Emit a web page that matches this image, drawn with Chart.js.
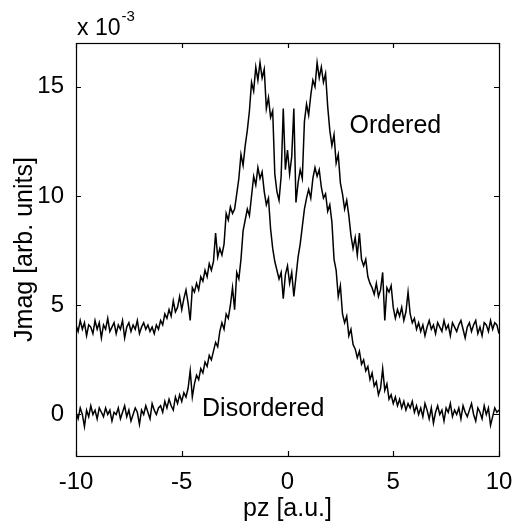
<!DOCTYPE html>
<html>
<head>
<meta charset="utf-8">
<script src="https://cdn.jsdelivr.net/npm/chart.js@4.4.1/dist/chart.umd.min.js"></script>
<style>
  html, body { margin: 0; padding: 0; background: #fff; }
  #wrap { width: 513px; height: 524px; }
</style>
</head>
<body>
<div id="wrap"><canvas id="c" width="513" height="524"></canvas></div>
<script>
// Jmag vs pz, sampled every 0.1 a.u. from -10 to 10 (values x 10^-3)
const ordered = [
  4.1, 3.8, 4.3, 3.9, 4.2, 3.6, 4.1, 4.0, 3.7, 4.3,
  3.9, 4.2, 3.5, 4.1, 3.9, 4.4, 3.8, 4.0, 4.2, 3.7,
  4.1, 3.9, 4.3, 3.5, 4.0, 4.2, 3.8, 4.1, 3.9, 4.3,
  3.7, 4.0, 4.2, 3.9, 4.1, 3.8, 4.0, 3.7, 4.1, 3.9,
  4.3, 4.1, 4.6, 4.4, 4.8, 4.5, 5.2, 4.7, 4.9, 5.4,
  4.8, 5.3, 5.7, 5.1, 4.3, 5.8, 5.6, 6.0, 5.7, 6.3,
  6.1, 6.6, 6.3, 6.9, 6.6, 7.0, 8.3, 7.2, 7.6, 7.3,
  7.8, 9.2, 8.9, 9.5, 9.2, 9.4, 10.1, 10.8, 11.9, 11.4,
  12.3, 13.0, 13.9, 15.2, 14.8, 15.9, 15.3, 16.1, 15.4, 15.8,
  14.0, 14.5, 13.6, 13.9, 11.0, 10.2, 9.8, 10.9, 14.0, 11.2,
  12.1,
  11.0, 11.8, 14.0, 9.7, 10.6, 11.2, 10.8, 13.4, 14.2, 13.7,
  14.6, 15.3, 15.0, 16.1, 15.4, 15.9, 15.2, 15.6, 14.1, 13.0,
  12.3, 12.8, 11.5, 11.9, 10.6, 10.1, 9.4, 9.8, 9.1, 8.2,
  7.6, 8.1, 7.3, 8.3, 7.1, 6.8, 7.1, 6.3, 6.0, 5.8,
  5.5, 6.0, 5.4, 5.7, 6.5, 4.3, 5.8, 5.6, 5.9, 4.9,
  4.4, 4.8, 4.5, 4.9, 4.3, 4.7, 5.6, 4.6, 4.2, 4.4,
  3.9, 4.2, 3.8, 4.1, 3.6, 4.0, 4.3, 3.9, 4.1, 3.7,
  4.2, 4.0, 3.8, 4.3, 3.9, 4.1, 3.6, 4.2, 4.0, 3.8,
  4.1, 4.3, 3.9, 3.5, 4.0, 4.2, 3.8, 4.1, 4.3, 3.7,
  4.0, 3.6, 4.2, 4.1, 3.8, 4.3, 3.9, 4.2, 4.1, 3.7
];
const disordered = [
  0.1, -0.2, 0.3, 0.0, -0.55, 0.2, -0.1, 0.4, 0.0, 0.2,
  -0.2, 0.3, 0.1, -0.1, 0.3, 0.0, 0.2, -0.3, 0.1, 0.0,
  0.3, -0.2, 0.1, 0.4, -0.1, 0.2, -0.3, 0.0, 0.3, 0.1,
  -0.45, 0.2, 0.0, 0.4, 0.1, -0.2, 0.5, 0.2, 0.0, 0.3,
  0.4, 0.1, 0.6, 0.3, 0.7, 0.4, 0.2, 0.8, 0.5, 0.9,
  0.6, 1.0, 0.8, 1.2, 2.0, 0.8, 1.4, 1.8, 1.6, 2.1,
  1.9, 2.4, 2.2, 2.7, 2.5, 2.9, 3.3, 3.1, 3.8, 4.2,
  3.9, 4.6, 4.4, 5.0, 5.8, 4.8, 6.5, 6.2, 7.1, 8.4,
  8.9, 9.4, 9.1, 10.0, 10.9, 10.5, 11.3, 10.8, 11.1, 10.2,
  9.6, 9.9, 8.5, 7.6, 7.0, 6.6, 6.2, 6.5, 5.3, 6.4,
  6.8,
  6.0, 6.5, 5.4, 6.3, 7.2, 7.8, 8.6, 9.4, 9.9, 10.3,
  9.9, 10.8, 11.3, 10.9, 11.2, 10.4, 9.9, 10.1, 9.3, 9.6,
  8.8, 7.1, 6.6, 5.4, 5.9, 4.6, 4.2, 4.5, 3.6, 3.9,
  3.2, 3.0, 2.6, 2.9, 2.3, 2.5, 2.0, 2.2, 1.6, 1.9,
  1.3, 1.5, 0.9, 1.2, 2.1, 1.1, 1.4, 0.7, 0.9, 0.5,
  0.8, 0.4, 0.7, 0.3, 0.6, 0.2, 0.5, 0.3, 0.6, 0.1,
  0.4, 0.0, 0.3, -0.1, 0.5, 0.2, -0.2, 0.3, -0.4, 0.1,
  0.4, 0.0, 0.2, -0.3, 0.3, 0.1, 0.5, -0.1, 0.2, 0.0,
  0.3, -0.2, 0.4, 0.1, -0.1, 0.2, 0.5, 0.0, -0.3, 0.3,
  0.1, -0.2, 0.4, 0.0, 0.3, -0.5, -0.1, 0.3, 0.1, 0.2
];
const pz = ordered.map((_, i) => Math.round((-10 + i * 0.1) * 10) / 10);
const xTicks = [-10, -5, 0, 5, 10];
const yTicks = [0, 5, 10, 15];
const labels = [
  { text: 'Ordered', x: 5.1, y: 13.2 },
  { text: 'Disordered', x: -1.15, y: 0.25 }
];

const FONT = '"Liberation Sans", Arial, Helvetica, sans-serif';

const frame = {
  id: 'frame',
  beforeDraw(chart) {
    const c = chart.ctx;
    c.save();
    c.fillStyle = '#fff';
    c.fillRect(0, 0, chart.width, chart.height);
    c.restore();
  },
  afterDraw(chart) {
    const c = chart.ctx;
    const a = chart.chartArea;
    const xs = chart.scales.x, ys = chart.scales.y;
    c.save();
    c.strokeStyle = '#000';
    c.lineWidth = 1.2;
    c.strokeRect(a.left + 0.5, a.top + 0.5, a.right - a.left, a.bottom - a.top);
    const len = 5;
    c.beginPath();
    xTicks.forEach((v) => {
      const px = Math.round(xs.getPixelForValue(v)) + 0.5;
      c.moveTo(px, a.bottom); c.lineTo(px, a.bottom - len);
      c.moveTo(px, a.top); c.lineTo(px, a.top + len);
    });
    yTicks.forEach((v) => {
      const py = Math.round(ys.getPixelForValue(v)) + 0.5;
      c.moveTo(a.left, py); c.lineTo(a.left + len, py);
      c.moveTo(a.right, py); c.lineTo(a.right - len, py);
    });
    c.stroke();

    c.fillStyle = '#000';
    c.font = '25px ' + FONT;
    c.textAlign = 'center';
    c.textBaseline = 'middle';
    labels.forEach((l) => {
      c.fillText(l.text, xs.getPixelForValue(l.x), ys.getPixelForValue(l.y));
    });

    // exponent
    c.textAlign = 'left';
    c.textBaseline = 'alphabetic';
    c.font = '23px ' + FONT;
    c.fillText('x 10', a.left + 1, a.top - 8);
    const w = c.measureText('x 10').width;
    c.font = '15px ' + FONT;
    c.fillText('-3', a.left + 1 + w + 1, a.top - 22);
    c.restore();
  }
};

new Chart(document.getElementById('c'), {
  type: 'line',
  data: {
    labels: pz,
    datasets: [
      { label: 'Ordered', data: ordered, borderColor: '#000', borderWidth: 1.5, pointRadius: 0, tension: 0 },
      { label: 'Disordered', data: disordered, borderColor: '#000', borderWidth: 1.5, pointRadius: 0, tension: 0 }
    ]
  },
  options: {
    responsive: false,
    animation: false,
    events: [],
    layout: { padding: { left: 0, right: 14, top: 43, bottom: 0 } },
    plugins: { legend: { display: false }, tooltip: { enabled: false } },
    scales: {
      x: {
        type: 'linear',
        min: -10, max: 10,
        afterBuildTicks: (s) => { s.ticks = xTicks.map((v) => ({ value: v })); },
        afterFit: (s) => { s.height = 68; s.paddingLeft = 0; s.paddingRight = 0; },
        grid: { display: false, drawTicks: false },
        border: { display: false },
        ticks: { color: '#000', font: { family: FONT, size: 24 }, padding: 12, maxRotation: 0 },
        title: { display: true, text: 'pz [a.u.]', color: '#000', font: { family: FONT, size: 25 }, padding: { top: 4, bottom: 0 } }
      },
      y: {
        min: -1.9, max: 17,
        afterBuildTicks: (s) => { s.ticks = yTicks.map((v) => ({ value: v })); },
        afterFit: (s) => { s.width = 76; },
        grid: { display: false, drawTicks: false },
        border: { display: false },
        ticks: { color: '#000', font: { family: FONT, size: 24 }, padding: 12 },
        title: { display: true, text: 'Jmag [arb. units]', color: '#000', font: { family: FONT, size: 25 }, padding: { top: 10, bottom: 4 } }
      }
    }
  },
  plugins: [frame]
});
</script>
</body>
</html>
